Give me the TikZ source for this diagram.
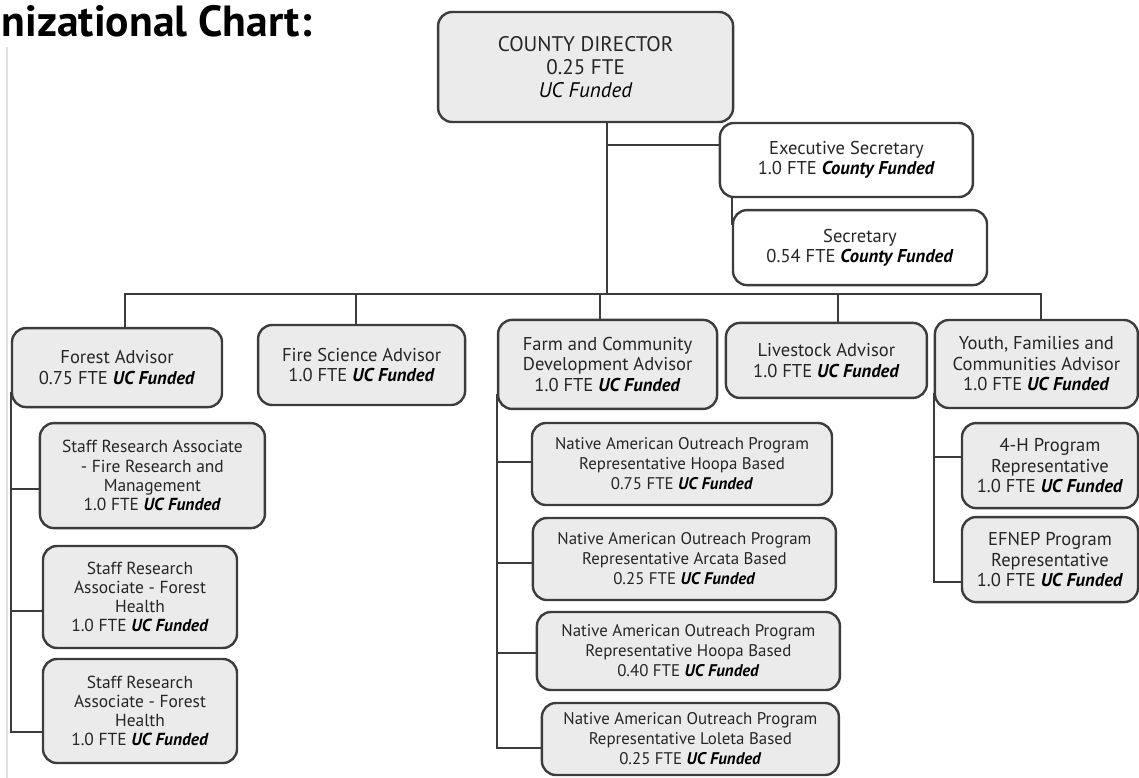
\documentclass[tikz,border=0pt]{standalone}
\usepackage{fontspec}
\setmainfont{PT Sans}
\usetikzlibrary{positioning,backgrounds}
\definecolor{boxgray}{HTML}{EBEBEB}
\definecolor{edgegray}{HTML}{3C3C3C}
\definecolor{txtgray}{HTML}{262626}
\newcommand{\ucfund}{\textcolor{black}{\textbf{\textit{UC Funded}}}}
\newcommand{\cofund}{\textcolor{black}{\textbf{\textit{County Funded}}}}

\begin{document}
\begin{tikzpicture}[
    font=\fontsize{13.2}{14.6}\selectfont,
    box/.style={draw=edgegray, line width=0.6mm, rounded corners=3.5mm, fill=boxgray,
                align=center, inner sep=2pt, text=txtgray},
    wbox/.style={box, fill=white},
    nabox/.style={box, font=\fontsize{12}{14.2}\selectfont},
    srabox/.style={box, font=\fontsize{12.4}{13.7}\selectfont},
    link/.style={draw=edgegray, line width=0.4mm},
    ttl/.style={font=\fontsize{31}{33}\selectfont\bfseries, anchor=base west, inner sep=0pt}
  ]
  \useasboundingbox (0,0) rectangle (284.75mm,-194.5mm);

  \node[ttl] (title) at (0.4mm,-9mm) {nizational Chart:};
  \draw[line width=0.4mm, black!12] (1.75mm,-11.75mm) -- (1.75mm,-194.5mm);

  % top
  \node[box, minimum width=73.75mm, minimum height=27.5mm, font=\fontsize{15}{16.6}\selectfont]
    (dir) at (146.4mm,-16.75mm) {COUNTY DIRECTOR\\0.25 FTE\\\textcolor{black}{\textit{UC Funded}}};
  \node[wbox, minimum width=63.25mm, minimum height=18.5mm] (exec) at (211.6mm,-40mm)
    {Executive Secretary\\1.0 FTE \cofund};
  \node[wbox, minimum width=63.5mm, minimum height=18.75mm] (sec) at (215mm,-61.9mm)
    {Secretary\\0.54 FTE \cofund};

  % advisors
  \node[box, minimum width=52.5mm,  minimum height=19.75mm] (forest) at (29.25mm,-91.9mm)
    {Forest Advisor\\0.75 FTE \ucfund};
  \node[box, minimum width=51.75mm, minimum height=20mm]    (fire)   at (90.4mm,-91.25mm)
    {Fire Science Advisor\\1.0 FTE \ucfund};
  \node[box, minimum width=54.75mm, minimum height=22.25mm] (farm)   at (151.9mm,-91.1mm)
    {Farm and Community\\Development Advisor\\1.0 FTE \ucfund};
  \node[box, minimum width=50.25mm, minimum height=18.75mm] (live)   at (206.6mm,-90.1mm)
    {Livestock Advisor\\1.0 FTE \ucfund};
  \node[box, minimum width=50.75mm, minimum height=22mm]    (youth)  at (259.1mm,-91mm)
    {Youth, Families and\\Communities Advisor\\1.0 FTE \ucfund};

  % forest staff
  \node[srabox, minimum width=56.25mm, minimum height=26.25mm] (sra1) at (38.1mm,-118.9mm)
    {Staff Research Associate\\- Fire Research and\\Management\\1.0 FTE \ucfund};
  \node[srabox, minimum width=48.5mm, minimum height=25.5mm] (sra2) at (35mm,-149.25mm)
    {Staff Research\\Associate - Forest\\Health\\1.0 FTE \ucfund};
  \node[srabox, minimum width=48.5mm, minimum height=26mm]   (sra3) at (35mm,-177.75mm)
    {Staff Research\\Associate - Forest\\Health\\1.0 FTE \ucfund};

  % outreach staff
  \node[nabox, minimum width=75mm,    minimum height=20.5mm] (na1) at (170.5mm,-116mm)
    {Native American Outreach Program\\Representative Hoopa Based\\0.75 FTE \ucfund};
  \node[nabox, minimum width=75.75mm, minimum height=20.5mm] (na2) at (171.1mm,-139.75mm)
    {Native American Outreach Program\\Representative Arcata Based\\0.25 FTE \ucfund};
  \node[nabox, minimum width=75.75mm, minimum height=19.5mm] (na3) at (172.1mm,-162.75mm)
    {Native American Outreach Program\\Representative Hoopa Based\\0.40 FTE \ucfund};
  \node[nabox, minimum width=74.25mm, minimum height=18mm]   (na4) at (172.6mm,-184.75mm)
    {Native American Outreach Program\\Representative Loleta Based\\0.25 FTE \ucfund};

  % youth staff
  \node[box, minimum width=44mm, minimum height=21.25mm] (fourh) at (262.5mm,-116.4mm)
    {4-H Program\\Representative\\1.0 FTE \ucfund};
  \node[box, minimum width=44mm, minimum height=21.25mm] (efnep) at (262.5mm,-139.9mm)
    {EFNEP Program\\Representative\\1.0 FTE \ucfund};

  \begin{scope}[on background layer]
    \coordinate (hub) at (151.75mm,-73.5mm);
    \coordinate (execin) at ([yshift=3.75mm]exec.west);
    \draw[link] (dir.south -| hub) -- (hub);
    \draw[link] (hub |- execin) -- (execin);
    \draw[link] (exec.south -| sec.west) -- ([yshift=-4mm]sec.north west);
    \draw[link] ([xshift=2mm]forest.north) |- (hub) -| ([xshift=1.15mm]youth.north);
    \foreach \n/\dx in {fire/-1.4mm, farm/-1.9mm, live/2.9mm}
      \draw[link] ([xshift=\dx]\n.north) |- (hub);
    \foreach \n/\dy in {sra1/-3.35mm, sra2/-3.5mm, sra3/-5.25mm}
      \draw[link] ([yshift=4mm]forest.south west) |- ([yshift=\dy]\n.west);
    \foreach \n/\dy in {na1/0.5mm, na2/-1mm, na3/-0.5mm, na4/-2.25mm}
      \draw[link] ([yshift=4mm]farm.south west) |- ([yshift=\dy]\n.west);
    \foreach \n/\dy in {fourh/2.15mm, efnep/-5.6mm}
      \draw[link] ([yshift=4mm]youth.south west) |- ([yshift=\dy]\n.west);
  \end{scope}
\end{tikzpicture}
\end{document}
